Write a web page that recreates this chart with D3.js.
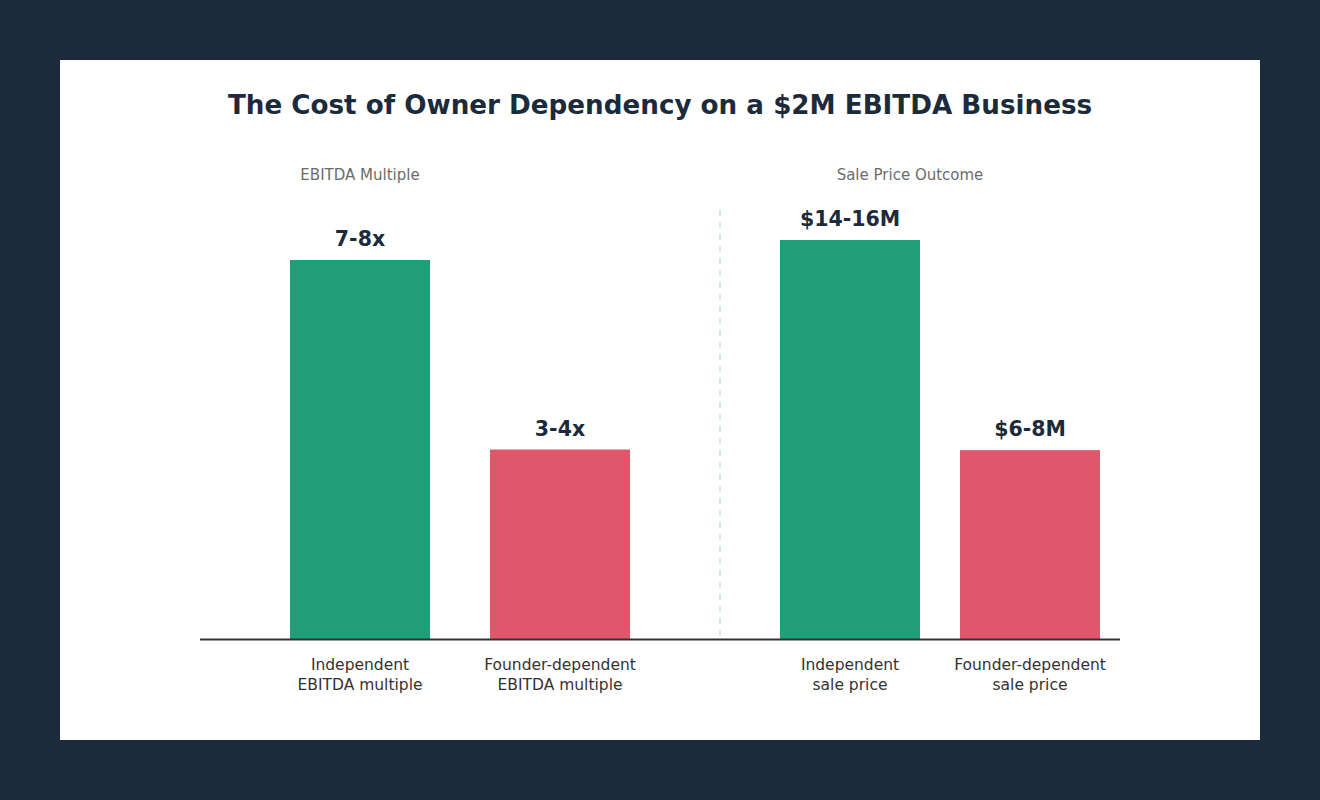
<!DOCTYPE html>
<html>
<head>
<meta charset="utf-8">
<script src="https://cdn.jsdelivr.net/npm/d3@7"></script>
<style>
  html, body { margin: 0; padding: 0; background: #1c2b3b; }
  svg { display: block; }
</style>
</head>
<body>
<script>
// Chart data
const multipleCategories = ['Independent\nEBITDA multiple', 'Founder-dependent\nEBITDA multiple'];
const multipleValues = [8, 4];
const multipleLabels = ['7-8x', '3-4x'];

const priceCategories = ['Independent\nsale price', 'Founder-dependent\nsale price'];
const priceValues = [15, 7.1];
const priceLabels = ['$14-16M', '$6-8M'];

const barColors = ['#1f9e77', '#e0566b'];

const width = 1320, height = 800;
const font = '"DejaVu Sans", Verdana, sans-serif';

const svg = d3.select('body').append('svg')
    .attr('width', width)
    .attr('height', height);

svg.append('rect')
    .attr('width', width).attr('height', height)
    .attr('fill', '#1c2b3b');

// white card
svg.append('rect')
    .attr('x', 60).attr('y', 60)
    .attr('width', 1200).attr('height', 680)
    .attr('fill', '#ffffff');

svg.append('text')
    .attr('x', 660).attr('y', 114)
    .attr('text-anchor', 'middle')
    .attr('font-family', font)
    .attr('font-weight', 'bold')
    .attr('font-size', 26.2)
    .attr('fill', '#1c2b3b')
    .text('The Cost of Owner Dependency on a $2M EBITDA Business');

const baseY = 639;
const barW = 140;

function panel(categories, values, labels, title, titleX, xRange, yTop) {
    const x = d3.scalePoint().domain(categories).range(xRange);
    const y = d3.scaleLinear().domain([0, d3.max(values)]).range([baseY, yTop]);

    svg.append('text')
        .attr('x', titleX).attr('y', 180)
        .attr('text-anchor', 'middle')
        .attr('font-family', font)
        .attr('font-size', 15)
        .attr('fill', '#6b6b6b')
        .text(title);

    const g = svg.append('g');
    g.selectAll('rect')
        .data(values)
        .join('rect')
        .attr('x', (d, i) => x(categories[i]) - barW / 2)
        .attr('y', d => y(d))
        .attr('width', barW)
        .attr('height', d => baseY - y(d))
        .attr('fill', (d, i) => barColors[i]);

    g.selectAll('text.val')
        .data(values)
        .join('text')
        .attr('class', 'val')
        .attr('x', (d, i) => x(categories[i]))
        .attr('y', d => y(d) - 14)
        .attr('text-anchor', 'middle')
        .attr('font-family', font)
        .attr('font-weight', 'bold')
        .attr('font-size', 20.5)
        .attr('fill', '#1c2b3b')
        .text((d, i) => labels[i]);

    const cat = g.selectAll('text.cat')
        .data(categories)
        .join('text')
        .attr('class', 'cat')
        .attr('x', d => x(d))
        .attr('y', 670)
        .attr('text-anchor', 'middle')
        .attr('font-family', font)
        .attr('font-size', 15.5)
        .attr('fill', '#333333');
    cat.selectAll('tspan')
        .data(d => d.split('\n'))
        .join('tspan')
        .attr('x', function () { return d3.select(this.parentNode).attr('x'); })
        .attr('dy', (d, i) => i === 0 ? 0 : 20)
        .text(d => d);
}

panel(multipleCategories, multipleValues, multipleLabels, 'EBITDA Multiple', 360, [360, 560], 260);
panel(priceCategories, priceValues, priceLabels, 'Sale Price Outcome', 910, [850, 1030], 240);

// divider
svg.append('line')
    .attr('x1', 720).attr('x2', 720)
    .attr('y1', 210).attr('y2', baseY)
    .attr('stroke', '#cfe8ee')
    .attr('stroke-width', 2)
    .attr('stroke-dasharray', '6,6');

// baseline
svg.append('line')
    .attr('x1', 200).attr('x2', 1120)
    .attr('y1', baseY + 0.5).attr('y2', baseY + 0.5)
    .attr('stroke', '#333333')
    .attr('stroke-width', 2);
</script>
</body>
</html>
